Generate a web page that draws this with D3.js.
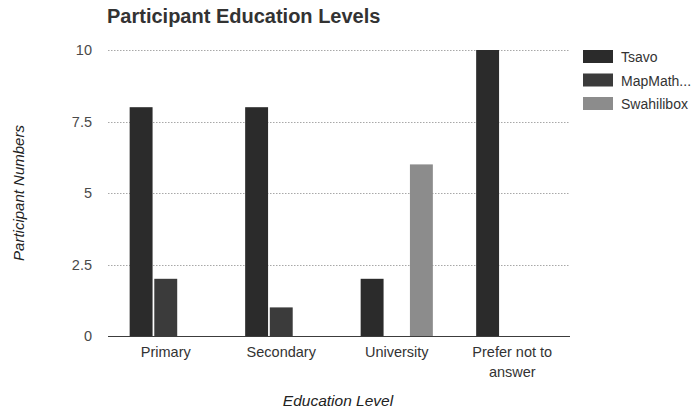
<!DOCTYPE html>
<html>
<head>
<meta charset="utf-8">
<script src="https://cdn.jsdelivr.net/npm/d3@7"></script>
<style>
  html, body { margin: 0; padding: 0; background: #fff; }
  svg { display: block; font-family: Arial, "Liberation Sans", sans-serif; }
</style>
</head>
<body>
<svg id="chart" width="697" height="412"></svg>
<script>
// Education levels reported by participants, per group
const categories = ["Primary", "Secondary", "University", "Prefer not to answer"];
const seriesNames = ["Tsavo", "MapMath...", "Swahilibox"];
const tsavo = [8, 8, 2, 10];
const mapMath = [2, 1, 0, 0];
const swahilibox = [0, 0, 6, 0];
const yTicks = [0, 2.5, 5, 7.5, 10];
const yTickLabels = ["0", "2.5", "5", "7.5", "10"];
const seriesColors = ["#2b2b2b", "#3b3b3b", "#8c8c8c"];

const seriesValues = [tsavo, mapMath, swahilibox];

const svg = d3.select("#chart");
const plot = { left: 108, right: 570, top: 50, bottom: 336 };

const x0 = d3.scaleBand()
  .domain(categories)
  .range([plot.left, plot.right])
  .paddingInner(0.375)
  .paddingOuter(0.1875);

const x1 = d3.scaleBand()
  .domain(seriesNames)
  .range([0, x0.bandwidth()])
  .paddingInner(0.07);

const y = d3.scaleLinear().domain([0, 10]).range([plot.bottom, plot.top]);

// Dotted horizontal gridlines
svg.append("g")
  .selectAll("line")
  .data(yTicks.filter(d => d > 0))
  .join("line")
  .attr("x1", plot.left)
  .attr("x2", plot.right)
  .attr("y1", d => Math.round(y(d)) + 0.5)
  .attr("y2", d => Math.round(y(d)) + 0.5)
  .attr("stroke", "#a8a8a8")
  .attr("stroke-width", 1)
  .attr("stroke-dasharray", "1.5,1.5");

// Y axis labels
const yAxis = d3.axisLeft(y)
  .tickValues(yTicks)
  .tickFormat((d, i) => yTickLabels[i])
  .tickSize(0)
  .tickPadding(16);
const gy = svg.append("g")
  .attr("transform", `translate(${plot.left},0)`)
  .call(yAxis);
gy.select(".domain").remove();
gy.selectAll("text")
  .attr("fill", "#4a4a4a")
  .attr("font-size", 14.5)
  .attr("font-family", "Arial, 'Liberation Sans', sans-serif");

// Bars
const groups = svg.append("g")
  .selectAll("g")
  .data(categories)
  .join("g")
  .attr("transform", d => `translate(${x0(d)},0)`);

groups.selectAll("rect")
  .data((c, ci) => seriesNames.map((s, si) => ({ s, si, v: seriesValues[si][ci] })))
  .join("rect")
  .filter(d => d.v > 0)
  .attr("x", d => x1(d.s))
  .attr("width", x1.bandwidth())
  .attr("y", d => y(d.v))
  .attr("height", d => y(0) - y(d.v))
  .attr("fill", d => seriesColors[d.si]);

// Baseline
svg.append("line")
  .attr("x1", plot.left)
  .attr("x2", plot.right)
  .attr("y1", y(0) + 0.5)
  .attr("y2", y(0) + 0.5)
  .attr("stroke", "#3c3c3c")
  .attr("stroke-width", 1.2);

// Category labels, wrapped when long
const xAxis = d3.axisBottom(x0).tickSize(0).tickPadding(0);
const gx = svg.append("g")
  .attr("transform", `translate(0,${plot.bottom})`)
  .call(xAxis);
gx.select(".domain").remove();
gx.selectAll("text").remove();
gx.selectAll(".tick").each(function (d) {
  const lines = d === "Prefer not to answer" ? ["Prefer not to", "answer"] : [d];
  const t = d3.select(this).append("text")
    .attr("text-anchor", "middle")
    .attr("fill", "#333")
    .attr("font-size", 14.5);
  lines.forEach((ln, i) => {
    t.append("tspan").attr("x", 0).attr("y", 21 + i * 20).text(ln);
  });
});

// Title
svg.append("text")
  .attr("x", 107)
  .attr("y", 23)
  .attr("font-size", 20)
  .attr("font-weight", "bold")
  .attr("fill", "#333")
  .text("Participant Education Levels");

// Axis titles
svg.append("text")
  .attr("x", 338)
  .attr("y", 406)
  .attr("text-anchor", "middle")
  .attr("font-size", 15.5)
  .attr("font-style", "italic")
  .attr("fill", "#222")
  .text("Education Level");

svg.append("text")
  .attr("transform", `translate(24,${(plot.top + plot.bottom) / 2}) rotate(-90)`)
  .attr("text-anchor", "middle")
  .attr("font-size", 15)
  .attr("font-style", "italic")
  .attr("fill", "#222")
  .text("Participant Numbers");

// Legend
const legend = svg.append("g")
  .selectAll("g")
  .data(seriesNames)
  .join("g")
  .attr("transform", (d, i) => `translate(583,${50 + i * 23.5})`);
legend.append("rect")
  .attr("width", 30)
  .attr("height", 13)
  .attr("fill", (d, i) => seriesColors[i]);
legend.append("text")
  .attr("x", 38)
  .attr("y", 12)
  .attr("font-size", 14)
  .attr("fill", "#333")
  .text(d => d);
</script>
</body>
</html>
